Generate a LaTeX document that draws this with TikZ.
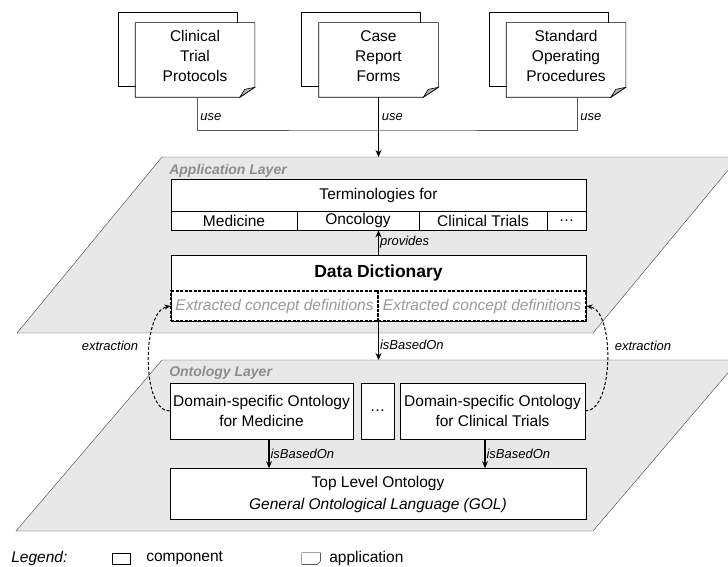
\documentclass[tikz,border=0pt]{standalone}
\usepackage{fontspec}
\setmainfont{Liberation Sans}
\usetikzlibrary{positioning, arrows.meta}

\begin{document}
\begin{tikzpicture}
            [x=1pt, y=-1pt, >={Stealth[length=7pt, width=6pt]}, semithick,
             every node/.style={font=\fontsize{15.5}{20}\selectfont},
             box/.style={draw, fill=white, inner sep=0pt, align=center},
             docbox/.style={fill=white, inner sep=0pt, minimum width=119pt, minimum height=74pt},
             layer/.style={draw=black!75, thin, fill=black!9},
             layertitle/.style={font=\fontsize{14}{16}\selectfont\bfseries\itshape, text=black!45, inner sep=0pt},
             lbl/.style={font=\fontsize{13}{15}\selectfont\itshape, inner sep=1pt},
             ecd/.style={draw, dash pattern=on 3pt off 1.5pt, line width=1.1pt, inner sep=0pt,
                         minimum height=30pt, font=\fontsize{15.5}{20}\selectfont\itshape, text=black!40},
             extr/.style={-{Stealth[length=6pt, width=5pt]}, dash pattern=on 3pt off 2pt, line width=1pt},
             arr/.style={->, line width=1.1pt},
             useline/.style={black!65}]
            \useasboundingbox (0,0) rectangle (728,567);

            % layers
            \draw[layer] (162,157) -- (739,157) -- (593,333) -- (17,333) -- cycle;
            \draw[layer] (162,360) -- (739,360) -- (593,531) -- (16,531) -- cycle;
            \node[layertitle, anchor=west] (appT) at (169,171) {Application Layer};
            \node[layertitle, anchor=west] (ontT) at (169,373) {Ontology Layer};

            % documents
            \foreach \n/\x/\t in {ctp/195/{Clinical\\Trial\\Protocols}, crf/378.5/{Case\\Report\\Forms}, sop/566/{Standard\\Operating\\Procedures}} {
              \node[box, minimum width=119pt, minimum height=74pt] (\n b) at (\x-17.5,49) {};
              \node[docbox] (\n) at (\x,60) {};
              \draw (\n.north west) -- (\n.north east) -- ([yshift=10pt]\n.south east)
                -- ([xshift=-15pt]\n.south east) -- (\n.south west) -- cycle;
              \draw[fill=black!30] ([yshift=10pt]\n.south east) -- ([xshift=-15pt]\n.south east)
                -- ([xshift=-10pt,yshift=8pt]\n.south east) -- cycle;
              \node[align=center, inner sep=0pt] (\n t) at (\x,56) {\t};
            }
            \coordinate (useJ) at (378.5,130);
            \coordinate (appTop) at (378.5,157);
            \draw[useline] ([xshift=2pt]ctp.south) |- (useJ) -| ([xshift=11pt]sop.south);
            \draw[arr] (crf.south) -- (appTop);
            \node[lbl, anchor=west] (use1) at (199,117) {use};
            \node[lbl, anchor=west] (use2) at (380.5,117) {use};
            \node[lbl, anchor=west] (use3) at (579,117) {use};

            % application layer
            \node[box, minimum width=415pt, minimum height=51pt] (term) at (378.5,204.5) {};
            \node[inner sep=0pt] (termT) at (378.5,195) {Terminologies for};
            \node[box, minimum width=126pt, minimum height=19pt] (med) at (234,220.5) {Medicine};
            \node[box, minimum width=122pt, minimum height=19pt] (onc) at (358,220.5) {Oncology};
            \node[box, minimum width=128pt, minimum height=19pt] (ctr) at (483,220.5) {Clinical Trials};
            \node[box, minimum width=39pt, minimum height=19pt] (tdots) at (566.5,220.5) {\dots};

            \node[box, minimum width=415pt, minimum height=66pt] (dd) at (378.5,288) {};
            \node[inner sep=0pt, font=\fontsize{17.5}{20}\selectfont\bfseries] (ddT) at (378.5,273) {Data Dictionary};
            \node[ecd, minimum width=207pt] (ecdL) at (274.5,306) {Extracted concept definitions};
            \node[ecd, minimum width=208pt] (ecdR) at (482,306) {Extracted concept definitions};

            \path [arr] (dd.north) edge node[lbl, right] {provides} (term.south);

            % ontology layer
            \coordinate (ontTop) at (378.5,360);
            \path [arr] (dd.south) edge node[lbl, right, pos=0.6] {isBasedOn} (ontTop);

            \node[box, minimum width=183pt, minimum height=56pt] (domMed) at (261.5,411) {Domain-specific Ontology\\for Medicine};
            \node[box, minimum width=33pt, minimum height=56pt] (odots) at (377.5,411) {\dots};
            \node[box, minimum width=185pt, minimum height=56pt] (domCT) at (492.5,411) {Domain-specific Ontology\\for Clinical Trials};
            \node[box, minimum width=416pt, minimum height=51pt, font=\fontsize{15.5}{22}\selectfont] (top) at (378,494)
              {Top Level Ontology\\\textit{General Ontological Language (GOL)}};

            \draw[arr] ([xshift=7.5pt]domMed.south) -- ([xshift=7.5pt]domMed.south |- top.north)
              node[lbl, right, midway] {isBasedOn};
            \draw[arr] ([xshift=-7.5pt]domCT.south) -- ([xshift=-7.5pt]domCT.south |- top.north)
              node[lbl, right, midway] {isBasedOn};

            % extraction
            \draw[extr] (domMed.west) to[out=180, in=190, looseness=0.7] (ecdL.west);
            \draw[extr] (domCT.east) to[out=0, in=-10, looseness=0.7] (ecdR.east);
            \node[lbl] (extrL) at (110,346) {extraction};
            \node[lbl] (extrR) at (643,346) {extraction};

            % legend
            \node[anchor=west, inner sep=0pt, font=\fontsize{15.5}{20}\selectfont\itshape] (legT) at (11,558) {Legend:};
            \node[box, thin, minimum width=18pt, minimum height=11pt] (legC) at (121,558.5) {};
            \node[anchor=west, inner sep=0pt] (legCt) at (146,558) {component};
            \node[inner sep=0pt, minimum width=18pt, minimum height=11pt] (legA) at (311,558.5) {};
            \draw[thin] (legA.north west) -- (legA.north east) -- ([yshift=3pt]legA.south east)
              -- ([xshift=-3pt]legA.south east) -- (legA.south west) -- cycle;
            \node[anchor=west, inner sep=0pt] (legAt) at (329,558) {application};
        \end{tikzpicture}
\end{document}
